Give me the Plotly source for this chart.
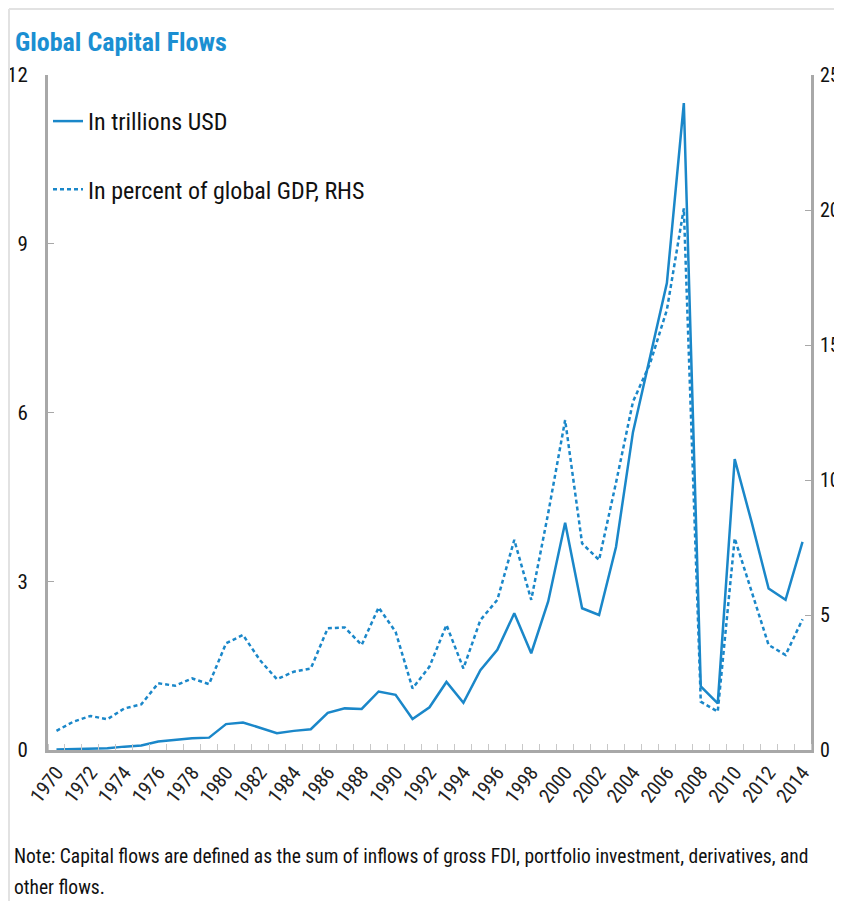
import plotly.graph_objects as go

years = list(range(1970, 2015))
usd_trillions = [0.01, 0.02, 0.02, 0.03, 0.06, 0.08, 0.15, 0.18, 0.21, 0.22,
                 0.46, 0.49, 0.39, 0.30, 0.34, 0.37, 0.66, 0.74, 0.73, 1.04,
                 0.98, 0.55, 0.76, 1.21, 0.84, 1.42, 1.78, 2.43, 1.72, 2.64,
                 4.04, 2.52, 2.40, 3.61, 5.65, 7.00, 8.30, 11.50, 1.13, 0.83,
                 5.17, 4.05, 2.87, 2.67, 3.70]
pct_gdp = [0.71, 1.05, 1.26, 1.14, 1.54, 1.69, 2.47, 2.38, 2.65, 2.44,
           3.95, 4.26, 3.33, 2.62, 2.90, 3.02, 4.51, 4.54, 3.89, 5.28,
           4.38, 2.28, 3.09, 4.63, 3.02, 4.81, 5.56, 7.78, 5.56, 8.77,
           12.22, 7.65, 7.04, 9.90, 12.90, 14.30, 16.30, 20.06, 1.79, 1.42,
           7.84, 5.85, 3.89, 3.52, 4.84]
x_tick_years = list(range(1970, 2015, 2))
left_ticks = [0, 3, 6, 9, 12]
right_ticks = [0, 5, 10, 15, 20, 25]

FONT = "Liberation Sans Narrow, Roboto Condensed, Arial Narrow, sans-serif"
BLUE = "#1a87c9"
AXIS = "#a8a8a8"

fig = go.Figure()
fig.add_trace(go.Scatter(x=years, y=usd_trillions, mode="lines", name="In trillions USD",
                         line=dict(color=BLUE, width=2.5), legendgroup="a"))
fig.add_trace(go.Scatter(x=years, y=pct_gdp, mode="lines", name="In percent of global GDP, RHS",
                         line=dict(color=BLUE, width=2.5, dash="4px,3px"), yaxis="y2",
                         legendgroup="b"))

# page has an 8px body margin at top/left; figure reaches the window's right/bottom edge
W, H = 834, 893
L, R, T, B = 40, 31, 67, 151
pw = W - L - R
ph = H - T - B

def px_x(x):
    return (x - L) / pw

def px_y(y):
    return (H - B - y) / ph

fig.update_layout(
    width=W, height=H,
    margin=dict(l=L, r=R, t=T, b=B, autoexpand=False),
    paper_bgcolor="white", plot_bgcolor="white",
    font=dict(family=FONT, color="#111111"),
    title=dict(text="<b>Global Capital Flows</b>", x=7 / W, xanchor="left", xref="container",
               y=1 - 34 / H, yanchor="middle", yref="container",
               font=dict(size=26, color="#1b8fd2", family=FONT)),
    showlegend=True,
    legend=dict(x=px_x(40), y=px_y(91), xanchor="left", yanchor="top",
                bgcolor="rgba(0,0,0,0)", font=dict(size=24, color="#111111", family=FONT),
                tracegroupgap=34, itemwidth=30),
    xaxis=dict(range=[1969.5, 2014.5], tickvals=x_tick_years,
               ticktext=[str(y) for y in x_tick_years], tickangle=-52,
               ticks="", showgrid=False, zeroline=False, automargin=False,
               showline=True, linecolor=AXIS, linewidth=3,
               tickfont=dict(size=20, color="#222222"),
               minor=dict(tick0=1969.5, dtick=1, ticks="inside", ticklen=6,
                          tickcolor="#c8c8c8", tickwidth=1, showgrid=False)),
    yaxis=dict(range=[0, 12], tickvals=left_ticks, ticks="inside", ticklen=6,
               tickcolor=AXIS, tickwidth=1, showgrid=False, zeroline=False,
               showline=True, linecolor=AXIS, linewidth=3, automargin=False,
               tickfont=dict(size=21, color="#111111"), ticklabelstandoff=13),
    yaxis2=dict(range=[0, 25], tickvals=right_ticks, overlaying="y", side="right",
                ticks="inside", ticklen=6, tickcolor=AXIS, tickwidth=1,
                showgrid=False, zeroline=False, showline=True, linecolor=AXIS,
                linewidth=3, automargin=False, tickfont=dict(size=20, color="#111111"),
                ticklabelstandoff=2),
)

# outer frame (light grey)
fig.add_shape(type="line", xref="paper", yref="paper", x0=px_x(1), x1=px_x(W + 5),
              y0=px_y(1), y1=px_y(1), line=dict(color="#e2e2e2", width=2))
fig.add_shape(type="line", xref="paper", yref="paper", x0=px_x(1), x1=px_x(1),
              y0=px_y(1), y1=px_y(H + 5), line=dict(color="#e2e2e2", width=2))

fig.add_annotation(text="Note: Capital flows are defined as the sum of inflows of gross FDI, portfolio investment, derivatives, and",
                   xref="paper", yref="paper", x=px_x(4), y=px_y(848), xanchor="left",
                   yanchor="middle", showarrow=False, font=dict(size=19.5, color="#111111", family=FONT))
fig.add_annotation(text="other flows.",
                   xref="paper", yref="paper", x=px_x(4), y=px_y(879), xanchor="left",
                   yanchor="middle", showarrow=False, font=dict(size=19.5, color="#111111", family=FONT))

fig.write_html("out.html")
